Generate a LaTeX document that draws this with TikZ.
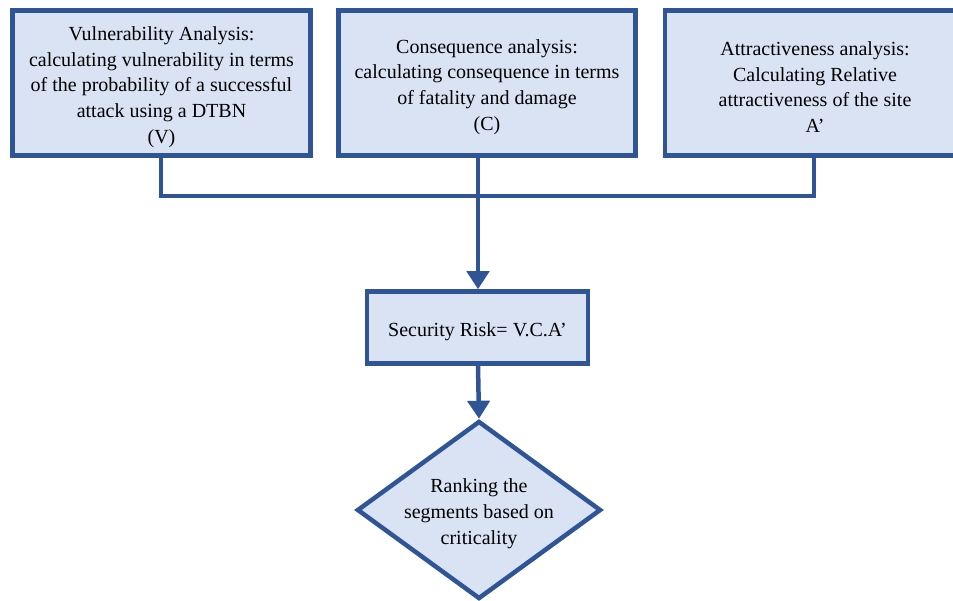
\documentclass[tikz,border=0pt]{standalone}
\usepackage{fontspec}
\setmainfont{Liberation Serif}
\usetikzlibrary{shapes.geometric,arrows.meta,shadows}
\definecolor{boxfill}{HTML}{DAE3F3}
\definecolor{boxline}{HTML}{2F5597}
\begin{document}
\begin{tikzpicture}[x=1pt,y=-1pt,
  txt/.style={align=center,font=\fontsize{20}{25.8}\selectfont,inner sep=0pt,yshift=-4pt},
  box/.style={draw=boxline,fill=boxfill,line width=4.5pt,inner sep=0pt,
    drop shadow={shadow xshift=1pt,shadow yshift=-2pt,opacity=0.12,fill=black}},
  conn/.style={draw=boxline,line width=4.5pt},
  arr/.style={conn,-{Triangle[width=22pt,length=18pt]}}]
\useasboundingbox (0,0) rectangle (953,601);
\clip (0,0) rectangle (953,601);
\node[box,minimum width=298pt,minimum height=145pt] (v) at (161.5,83) {};
\node[txt] (vt) at (v.center)
  {Vulnerability Analysis:\\calculating vulnerability in terms\\of the probability of a successful\\attack using a DTBN\\(V)};
\node[box,minimum width=297pt,minimum height=145pt] (c) at (487,83) {};
\node[txt] (ct) at (c.center)
  {Consequence analysis:\\calculating consequence in terms\\of fatality and damage\\(C)};
\node[box,minimum width=300pt,minimum height=145pt] (a) at (815,83) {};
\node[txt] (at) at (a.center)
  {Attractiveness analysis:\\Calculating Relative\\attractiveness of the site\\A'};
\node[box,minimum width=221pt,minimum height=72pt] (s) at (477.5,327.5) {};
\node[txt] (st) at (s.center) {Security Risk= V.C.A'};
\node[box,diamond,aspect=1.37,minimum width=244pt,minimum height=178pt] (r) at (479,510) {};
\node[txt] (rt) at (r.center) {Ranking the\\segments based on\\criticality};
\coordinate (j) at (478,196);
\coordinate (vb) at (161,196);
\coordinate (ab) at (814,196);
\draw[conn] (v.south -| vb) -- (vb) -- (ab) -- (a.south -| ab);
\draw[arr] (c.south -| j) -- (s.north -| j);
\draw[arr] (s.south -| j) -- (r.north);
\end{tikzpicture}
\end{document}
